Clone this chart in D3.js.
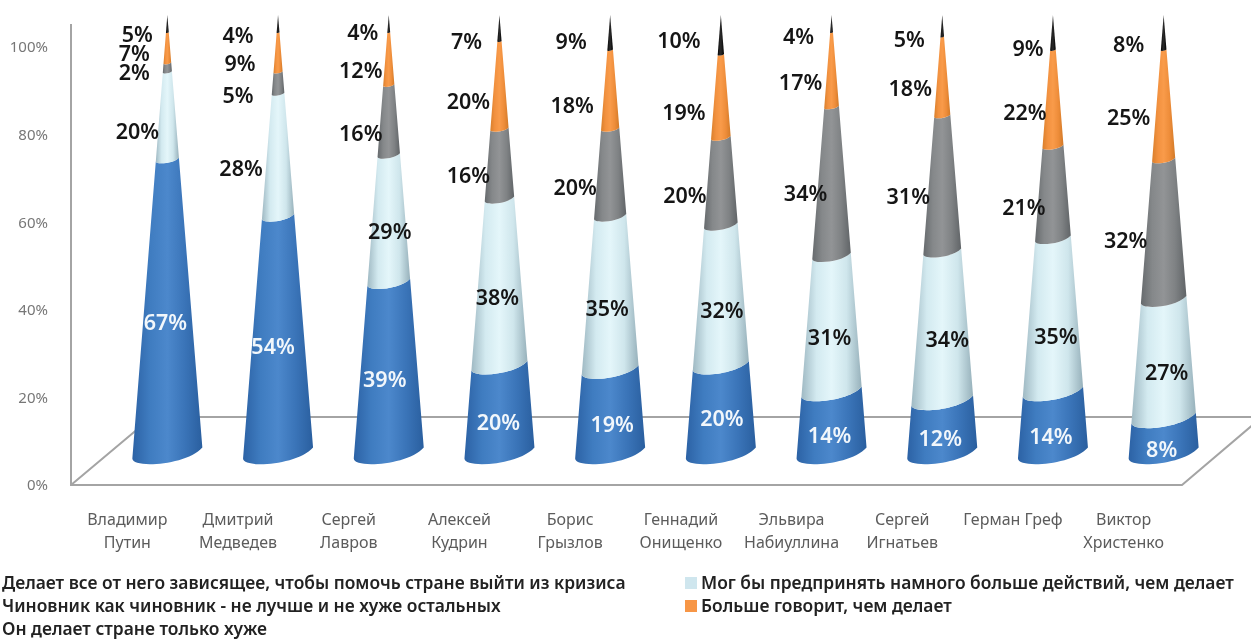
<!DOCTYPE html>
<html lang="ru">
<head>
<meta charset="utf-8">
<title>Оценка чиновников</title>
<script src="https://cdn.jsdelivr.net/npm/d3@7"></script>
<style>
  html, body { margin: 0; background: #fff; overflow: hidden; }
  svg { display: block; filter: blur(0.45px); }
  text { font-family: "Noto Sans", "Open Sans", sans-serif; }
</style>
</head>
<body>
<svg id="chart" width="1251" height="640"></svg>
<script>
// данные
const categories = ['Владимир|Путин', 'Дмитрий|Медведев', 'Сергей|Лавров', 'Алексей|Кудрин', 'Борис|Грызлов',
  'Геннадий|Онищенко', 'Эльвира|Набиуллина', 'Сергей|Игнатьев', 'Герман Греф', 'Виктор|Христенко'];
const seriesNames = ['Делает все от него зависящее, чтобы помочь стране выйти из кризиса',
  'Мог бы предпринять намного больше действий, чем делает',
  'Чиновник как чиновник - не лучше и не хуже остальных',
  'Больше говорит, чем делает',
  'Он делает стране только хуже'];
const helps  = [67, 54, 39, 20, 19, 20, 14, 12, 14, 8];
const could  = [20, 28, 29, 38, 35, 32, 31, 34, 35, 27];
const usual  = [2, 5, 16, 16, 20, 20, 34, 31, 21, 32];
const talks  = [7, 9, 12, 20, 18, 19, 17, 18, 22, 25];
const harms  = [5, 4, 4, 7, 9, 10, 4, 5, 9, 8];
const series = [helps, could, usual, talks, harms];
const yTicks = [0, 20, 40, 60, 80, 100];

// сдвиги подписей относительно середины сегмента
const labelDx = [
  [-2, -5, -4, -1, 2, 1, -2, -2, -2, -2],
  [-30, -37, 1, -2, -3, 1, -2, 5, 3, 3],
  [-33, -40, -28, -31, -35, -36, -26, -34, -29, -38],
  [-33, -38, -28, -31, -38, -37, -31, -32, -28, -35],
  [-30, -40, -26, -33, -39, -42, -33, -33, -25, -35]
];
const labelDy = [
  [16, 12, 12, 13, 13, 9, 13, 12, 14, 14],
  [16, 13, 13, 15, 15, 15, 13, 13, 21, 13],
  [5, 12, 13, 11, 15, 14, 12, 13, 15, 11],
  [5, 11, 11, 16, 16, 16, 13, 12, 14, 12],
  [10, 11, 8, 13, 9, 6, 12, 13, 16, 12]
];

const gradStops = [
  ['#2c62a5', '#3f7cc0', '#4c88cc', '#3a74b8', '#2a5f9f'],
  ['#9fb9c3', '#d3eaf0', '#e4f6fa', '#cfe6ec', '#97b1bb'],
  ['#666a6d', '#85888a', '#929496', '#7f8284', '#606467'],
  ['#d97f2c', '#f2913f', '#f99b4a', '#ee8d3a', '#d27a28'],
  ['#000000', '#1c1c1c', '#2a2a2a', '#161616', '#000000']
];
const swatchColors = ['#4a86c8', '#cfe6ee', '#808080', '#f79646', '#111111'];

const svg = d3.select('#chart');

const y = d3.scaleLinear().domain([0, 100]).range([453, 15]).clamp(true);   // высота конуса
const axisY = d3.scaleLinear().domain([0, 100]).range([485, 47]);           // ось на передней стенке
const x = d3.scaleBand().domain(categories).range([112, 1219]);
const radius = d3.scaleLinear().domain([0, 100]).range([35, 0]).clamp(true);
const floorBackY = 417, wallTop = 24, wallX = 71, floorRight = 1182, labelShift = -40;

// пол и стенка
const frame = svg.append('g').attr('fill', 'none').attr('stroke', '#a4a4a4').attr('stroke-width', 2);
frame.append('path').attr('d', `M${wallX},${wallTop}V${axisY(0)}H${floorRight}L1262,${floorBackY}H152L${wallX},${axisY(0)}`);

// градиенты
const defs = svg.append('defs');
gradStops.forEach((stops, i) => {
  const g = defs.append('linearGradient').attr('id', `grad${i}`).attr('x1', 0).attr('x2', 1).attr('y1', 0).attr('y2', 0);
  stops.forEach((c, j) => g.append('stop').attr('offset', j / (stops.length - 1)).attr('stop-color', c));
});

function segment(cx, v0, v1) {
  const r0 = radius(v0), r1 = radius(v1), y0 = y(v0), y1 = y(v1);
  const p = d3.path();
  p.moveTo(cx - r0, y0 + r0 * 0.16);
  p.lineTo(cx - r1, y1 + r1 * 0.16);
  p.bezierCurveTo(cx - r1, y1 + r1 * 0.45, cx + r1 * 0.55, y1 + r1 * 0.35, cx + r1, y1 - r1 * 0.16);
  p.lineTo(cx + r0, y0 - r0 * 0.16);
  p.bezierCurveTo(cx + r0 * 0.55, y0 + r0 * 0.35, cx - r0, y0 + r0 * 0.45, cx - r0, y0 + r0 * 0.16);
  p.closePath();
  return p.toString();
}

// конусы
const rows = [];
categories.forEach((c, i) => {
  let acc = 0;
  series.forEach((s, k) => {
    rows.push({ c, i, k, v: s[i], from: acc, to: acc + s[i] });
    acc += s[i];
  });
});
const centre = d => x(d.c) + x.bandwidth() / 2;

svg.append('g').selectAll('path').data(rows).join('path')
  .attr('d', d => segment(centre(d), d.from, d.to))
  .attr('fill', d => `url(#grad${d.k})`);

// подписи значений
svg.append('g').selectAll('text').data(rows).join('text')
  .attr('x', d => centre(d) + labelDx[d.k][d.i])
  .attr('y', d => y((d.from + Math.min(d.to, 100)) / 2) + labelDy[d.k][d.i])
  .attr('dy', '0.36em')
  .attr('text-anchor', 'middle')
  .attr('font-size', 21.5)
  .attr('font-weight', 600)
  .attr('fill', d => d.k === 0 ? '#f2f7fb' : '#151515')
  .text(d => `${d.v}%`);

// ось Y
const yAxis = svg.append('g').attr('transform', `translate(${wallX},0)`)
  .call(d3.axisLeft(axisY).tickValues(yTicks).tickFormat(d => `${d}%`).tickSize(0).tickPadding(23));
yAxis.select('.domain').remove();
yAxis.selectAll('text').attr('font-size', 15).attr('fill', '#777')
  .style('font-family', '"Noto Sans", sans-serif');

// ось X
const xAxis = svg.append('g').attr('transform', `translate(${labelShift},0)`)
  .call(d3.axisBottom(x).tickSize(0).tickFormat(''));
xAxis.select('.domain').remove();
xAxis.selectAll('.tick text').each(function (d) {
  const t = d3.select(this).attr('y', 0).attr('dy', null)
    .attr('font-size', 16).attr('fill', '#5c5c5c').style('font-family', '"Noto Sans", sans-serif');
  d.split('|').forEach((line, n) => {
    t.append('tspan').attr('x', 0).attr('y', 525 + n * 23).text(line);
  });
});

// легенда, левые маркеры обрезаны краем картинки
const legend = svg.append('g').selectAll('g').data(seriesNames).join('g')
  .attr('transform', (d, i) => `translate(${i % 2 ? 701 : 2},${583 + Math.floor(i / 2) * 23})`);
legend.append('text').attr('dy', '0.36em').attr('font-size', 17.4).attr('font-weight', 600).attr('fill', '#222').text(d => d);
legend.filter((d, i) => i % 2 === 1).append('rect')
  .attr('x', -16).attr('y', -6).attr('width', 12).attr('height', 12)
  .attr('fill', (d, i) => swatchColors[i * 2 + 1]);
</script>
</body>
</html>
